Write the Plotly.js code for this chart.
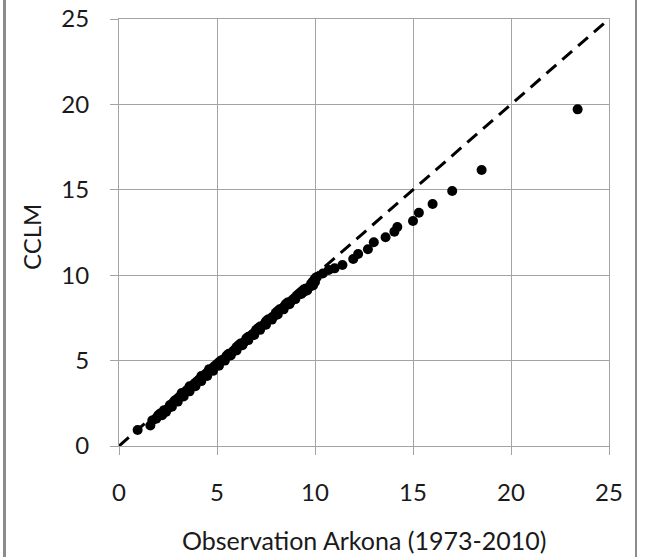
<!DOCTYPE html>
<html>
<head>
<meta charset="utf-8">
<script src="https://cdn.plot.ly/plotly-3.0.1.min.js"></script>
<style>
html,body{margin:0;padding:0;background:#fff;}
#chart{width:648px;height:557px;position:absolute;left:0;top:0;}
.frameL{position:absolute;left:3px;top:0;width:3px;height:557px;background:#8c8c8c;}
.frameR{position:absolute;left:635px;top:0;width:2px;height:557px;background:#8c8c8c;}
</style>
</head>
<body>
<div id="chart"></div>
<div class="frameL"></div>
<div class="frameR"></div>
<script>
var obsX = [0.95,1.6,1.7,1.9,2.0,2.1,2.3,2.5,2.6,2.8,2.9,3.0,3.1,3.2,3.4,3.5,3.6,3.8,3.9,4.0,4.1,4.2,4.4,4.5,4.6,4.8,4.9,5.0,5.1,5.2,5.4,5.5,5.6,5.8,5.9,6.0,6.1,6.2,6.4,6.5,6.6,6.8,6.9,7.0,7.1,7.2,7.4,7.5,7.6,7.8,7.9,8.0,8.1,8.2,8.4,8.5,8.6,8.8,8.9,9.0,9.2,9.4,9.5,9.7,9.8,10.0,10.0,10.1,10.4,10.7,11.0,11.4,11.95,12.2,12.7,13.0,13.6,14.05,14.2,15.0,15.3,16.0,17.0,18.5,23.4,
  2.2,2.4,2.7,3.0,3.3,3.6,3.9,4.2,4.5,4.8,5.1,5.4,5.7,6.0,6.3,6.6,6.9,7.2,7.5,7.8,8.1,8.4,8.7,9.0,9.3,9.6,9.9];
var cclmY = [0.94,1.2,1.5,1.6,1.8,1.9,2.1,2.2,2.4,2.6,2.7,2.8,2.9,3.1,3.2,3.3,3.5,3.6,3.7,3.8,3.9,4.1,4.2,4.3,4.5,4.6,4.7,4.8,4.9,5.0,5.1,5.3,5.4,5.5,5.6,5.8,5.9,6.0,6.1,6.3,6.4,6.5,6.6,6.8,6.9,7.0,7.1,7.3,7.4,7.5,7.6,7.8,7.9,8.0,8.1,8.3,8.4,8.5,8.6,8.7,8.9,9.0,9.2,9.3,9.5,9.6,9.8,9.9,10.1,10.3,10.4,10.6,10.95,11.24,11.52,11.93,12.22,12.55,12.82,13.17,13.66,14.17,14.93,16.16,19.71,
  1.8,2.0,2.3,2.6,2.9,3.2,3.5,3.8,4.1,4.4,4.7,5.0,5.3,5.6,5.9,6.2,6.5,6.8,7.1,7.4,7.7,8.0,8.3,8.6,8.9,9.1,9.4];
var refX = [0, 25];
var refY = [0, 25];
var tickVals = [0, 5, 10, 15, 20, 25];
var xTitle = "Observation Arkona (1973-2010)";
var yTitle = "CCLM";

var font = "Lato, 'Open Sans', sans-serif";
var grid = "#a3a3a3";

var traces = [
  {x: obsX, y: cclmY, type: "scatter", mode: "markers",
   marker: {color: "#000", size: 10}, hoverinfo: "x+y"},
  {x: refX, y: refY, type: "scatter", mode: "lines",
   line: {color: "#000", width: 3, dash: "13px,8px"}, hoverinfo: "skip"}
];

var axisCommon = {
  range: [0, 25], tickvals: tickVals, ticktext: tickVals.map(String),
  showgrid: true, gridcolor: grid, gridwidth: 1,
  zeroline: false, showline: true, linecolor: grid, linewidth: 1, mirror: true,
  ticks: "outside", ticklen: 8, tickcolor: grid, tickwidth: 1,
  tickfont: {family: font, size: 24, color: "#1a1a1a"}, fixedrange: true
};

var layout = {
  width: 648, height: 557,
  margin: {l: 119, r: 39, t: 19, b: 111},
  paper_bgcolor: "#fff", plot_bgcolor: "#fff",
  showlegend: false,
  xaxis: Object.assign({}, axisCommon, {ticklabelstandoff: 17}),
  yaxis: Object.assign({}, axisCommon, {ticklabelstandoff: 16}),
  annotations: [
    {text: xTitle, xref: "paper", yref: "paper", x: 0.5, y: -0.22,
     xanchor: "center", yanchor: "middle", showarrow: false,
     font: {family: font, size: 25, color: "#1a1a1a"}},
    {text: yTitle, xref: "paper", yref: "paper", x: -0.177, y: 0.49,
     xanchor: "center", yanchor: "middle", showarrow: false, textangle: -90,
     font: {family: font, size: 24, color: "#1a1a1a"}}
  ]
};

Plotly.newPlot("chart", traces, layout, {displayModeBar: false, staticPlot: true});
</script>
</body>
</html>
